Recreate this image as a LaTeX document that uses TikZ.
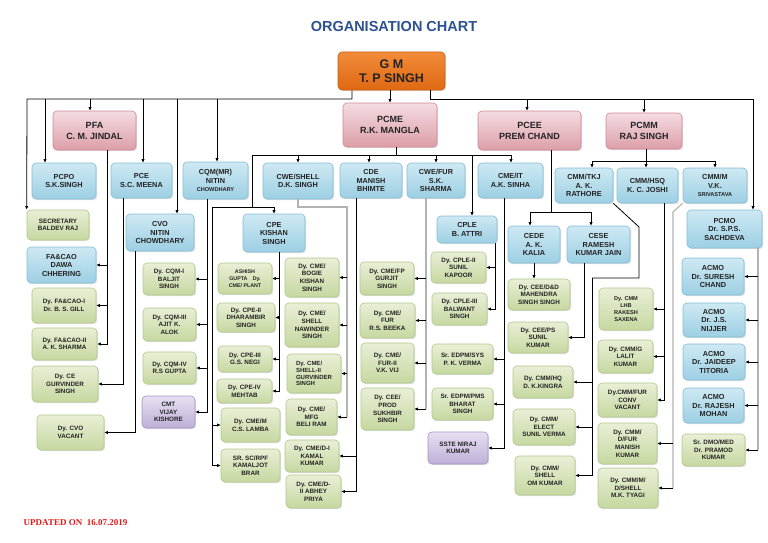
\documentclass[tikz,border=0pt]{standalone}
\usepackage{fontspec}
\setmainfont{Liberation Sans}
\newfontfamily\updfont{Liberation Serif}
\usetikzlibrary{arrows.meta}
\usetikzlibrary{shadows}
\definecolor{bluetop}{RGB}{206,233,243}
\definecolor{bluebot}{RGB}{156,207,227}
\definecolor{blueedge}{RGB}{132,190,215}
\definecolor{greentop}{RGB}{232,239,214}
\definecolor{greenbot}{RGB}{198,216,160}
\definecolor{greenedge}{RGB}{178,200,140}
\definecolor{pinktop}{RGB}{244,220,225}
\definecolor{pinkbot}{RGB}{220,158,168}
\definecolor{pinkedge}{RGB}{208,136,148}
\definecolor{purptop}{RGB}{230,223,241}
\definecolor{purpbot}{RGB}{190,175,216}
\definecolor{purpedge}{RGB}{165,148,196}
\definecolor{gmtop}{RGB}{242,140,58}
\definecolor{gmbot}{RGB}{222,104,18}
\definecolor{gmedge}{RGB}{205,95,15}
\definecolor{titleblue}{RGB}{44,82,145}
\definecolor{updred}{RGB}{225,25,25}
\definecolor{boxtext}{RGB}{35,35,35}

\tikzset{
  sz/.style 2 args={minimum width=#1pt, minimum height=#2pt},
  boxbase/.style={rounded corners=4pt, line width=0.6pt, align=center, inner sep=1pt,
    text=boxtext, drop shadow={shadow xshift=1.2pt, shadow yshift=-1.2pt, opacity=0.25}},
  bluebox/.style={boxbase, draw=blueedge, top color=bluetop, bottom color=bluebot,
    font=\bfseries\fontsize{7.3}{8.5}\selectfont},
  greenbox/.style={boxbase, draw=greenedge, top color=greentop, bottom color=greenbot,
    font=\bfseries\fontsize{6.3}{7.6}\selectfont},
  purplebox/.style={boxbase, draw=purpedge, top color=purptop, bottom color=purpbot,
    font=\bfseries\fontsize{6.3}{7.6}\selectfont},
  pinkbox/.style={boxbase, draw=pinkedge, top color=pinktop, bottom color=pinkbot,
    font=\bfseries\fontsize{9}{11}\selectfont},
  gmbox/.style={boxbase, draw=gmedge, top color=gmtop, bottom color=gmbot,
    font=\bfseries\fontsize{12.5}{14}\selectfont},
}

\begin{document}
\begin{tikzpicture}[x=1pt, y=-1pt, line width=0.8pt,
  arr/.style={-{Latex[length=3.6pt,width=3.4pt]}},
  gline/.style={draw=gray!60, line width=1.1pt}]

\fill[white] (0,0) rectangle (768,543);
\useasboundingbox (0,0) rectangle (768,543);

%---------------------------------------
% Title and top level
%---------------------------------------
\node[font=\bfseries\fontsize{14.5}{16}\selectfont, text=titleblue] (title) at (394,27) {ORGANISATION CHART};
\node[gmbox, sz={107}{38}] (gm) at (391.5,71) {G M\\T. P SINGH};

\node[pinkbox, sz={83}{39}] (pfa) at (94.5,130.5) {PFA\\C. M. JINDAL};
\node[pinkbox, sz={94}{44}] (pcme) at (390,125) {PCME\\R.K. MANGLA};
\node[pinkbox, sz={103}{39}] (pcee) at (529.5,130.5) {PCEE\\PREM CHAND};
\node[pinkbox, sz={76}{36}] (pcmm) at (644,131) {PCMM\\RAJ SINGH};

%---------------------------------------
% Second row
%---------------------------------------
\node[bluebox, sz={64}{36}] (pcpo) at (64,181) {PCPO\\S.K.SINGH};
\node[bluebox, sz={61}{35}] (pce) at (141.5,180.5) {PCE\\S.C. MEENA};
\node[bluebox, sz={65}{37}] (cqm) at (215.5,180.5) {CQM(MR)\\NITIN\\{\fontsize{5.6}{7}\selectfont CHOWDHARY}};
\node[bluebox, sz={70}{36}] (cweshell) at (298,181) {CWE/SHELL\\D.K. SINGH};
\node[bluebox, sz={62}{35}] (cde) at (371,180.5) {CDE\\MANISH\\BHIMTE};
\node[bluebox, sz={58}{35}] (cwefur) at (436,180.5) {CWE/FUR\\S.K.\\SHARMA};
\node[bluebox, sz={65}{35}] (cmeit) at (510.5,180.5) {CME/IT\\A.K. SINHA};
\node[bluebox, sz={58}{35}] (cmmtkj) at (584,185.5) {CMM/TKJ\\A. K.\\RATHORE};
\node[bluebox, sz={61}{35}] (cmmhsq) at (647.5,185.5) {CMM/HSQ\\K. C. JOSHI};
\node[bluebox, sz={64}{35}] (cmmm) at (715,185.5) {CMM/M\\V.K.\\{\fontsize{5.6}{7}\selectfont SRIVASTAVA}};

%---------------------------------------
% Third row
%---------------------------------------
\node[bluebox, sz={68}{37}] (cvo) at (160,232.5) {CVO\\NITIN\\CHOWDHARY};
\node[bluebox, sz={62}{38}] (cpe) at (274,233) {CPE\\KISHAN\\SINGH};
\node[bluebox, sz={60}{27}] (cple) at (467,229.5) {CPLE\\B. ATTRI};
\node[bluebox, sz={52}{37}] (cede) at (534,244.5) {CEDE\\A. K.\\KALIA};
\node[bluebox, sz={63}{37}] (cese) at (598.5,244.5) {CESE\\RAMESH\\KUMAR JAIN};
\node[bluebox, sz={75}{38}] (pcmo) at (724.5,229) {PCMO\\Dr. S.P.S.\\SACHDEVA};

%---------------------------------------
% Left column (PFA, PCE, CVO)
%---------------------------------------
\node[greenbox, sz={62}{30}] (secy) at (58,225) {SECRETARY\\BALDEV RAJ};
\node[bluebox, sz={69}{36}] (facao) at (61.5,265) {FA\&CAO\\DAWA\\CHHERING};
\node[greenbox, sz={64}{35}] (dyfa1) at (64,305.5) {Dy. FA\&CAO-I\\Dr. B. S. GILL};
\node[greenbox, sz={65}{32}] (dyfa2) at (64.5,344) {Dy. FA\&CAO-II\\A. K. SHARMA};
\node[greenbox, sz={66}{36}] (dyce) at (65,384) {Dy. CE\\GURVINDER\\SINGH};
\node[greenbox, sz={67}{35}] (dycvo) at (70.5,432.5) {Dy. CVO\\VACANT};

% CQM(MR)
\node[greenbox, sz={52}{32}] (dycqm1) at (169,279) {Dy. CQM-I\\BALJIT\\SINGH};
\node[greenbox, sz={53}{33}] (dycqm3) at (169.5,324.5) {Dy. CQM-III\\AJIT K.\\ALOK};
\node[greenbox, sz={53}{32}] (dycqm4) at (169.5,368) {Dy. CQM-IV\\R.S GUPTA};
\node[purplebox, sz={53}{32}] (cmt) at (168.5,412) {CMT\\VIJAY\\KISHORE};

% CPE
\node[greenbox, sz={54}{31}, font=\bfseries\fontsize{5.3}{7}\selectfont] (ashish) at (245,278.5) {ASHISH\\GUPTA\quad Dy.\\CME/ PLANT};
\node[greenbox, sz={58}{29}] (dycpe2) at (246,317.5) {Dy. CPE-II\\DHARAMBIR\\SINGH};
\node[greenbox, sz={54}{26}] (dycpe3) at (245,359) {Dy. CPE-III\\G.S. NEGI};
\node[greenbox, sz={55}{24}] (dycpe4) at (244.5,391) {Dy. CPE-IV\\MEHTAB};
\node[greenbox, sz={59}{34}] (dycmem) at (250.5,425) {Dy. CME/M\\C.S. LAMBA};
\node[greenbox, sz={59}{33}] (srsc) at (250.5,465.5) {SR. SC/RPF\\KAMALJOT\\BRAR};

% CWE/SHELL and CDE
\node[greenbox, sz={54}{39}] (dycmebogie) at (312,277.5) {Dy. CME/\\BOGIE\\KISHAN\\SINGH};
\node[greenbox, sz={54}{44}] (dycmeshell) at (312,325) {Dy. CME/\\SHELL\\NAWINDER\\SINGH};
\node[greenbox, sz={54}{39}, align=left, font=\bfseries\fontsize{6}{6.9}\selectfont] (dycmeshell2) at (314,373.5) {Dy. CME/\\SHELL-II\\GURVINDER\\SINGH};
\node[greenbox, sz={51}{36}] (dycmemfg) at (311.5,417) {Dy. CME/\\MFG\\BELI RAM};
\node[greenbox, sz={54}{32}] (dycmed1) at (312,456) {Dy. CME/D-I\\KAMAL\\KUMAR};
\node[greenbox, sz={55}{33}] (dycmed2) at (313.5,491.5) {Dy. CME/D-\\II ABHEY\\PRIYA};

% CWE/FUR
\node[greenbox, sz={54}{33}] (dycmefp) at (387,278.5) {Dy. CME/FP\\GURJIT\\SINGH};
\node[greenbox, sz={55}{35}] (dycmefur) at (387.5,320.5) {Dy. CME/\\FUR\\R.S. BEEKA};
\node[greenbox, sz={53}{40}] (dycmefur2) at (387.5,363) {Dy. CME/\\FUR-II\\V.K. VIJ};
\node[greenbox, sz={53}{42}] (dyceeprod) at (387.5,409) {Dy. CEE/\\PROD\\SUKHBIR\\SINGH};

% CPLE and CME/IT
\node[greenbox, sz={55}{31}] (dycple2) at (458.5,267.5) {Dy. CPLE-II\\SUNIL\\KAPOOR};
\node[greenbox, sz={55}{32}] (dycple3) at (459.5,309) {Dy. CPLE-III\\BALWANT\\SINGH};
\node[greenbox, sz={61}{30}] (edpmsys) at (462.5,359) {Sr. EDPM/SYS\\P. K. VERMA};
\node[greenbox, sz={61}{32}] (edpmpms) at (462.5,404) {Sr. EDPM/PMS\\BHARAT\\SINGH};
\node[purplebox, sz={60}{32}] (sste) at (458,448) {SSTE NIRAJ\\KUMAR};

% CEDE and CESE
\node[greenbox, sz={62}{31}] (dyceedd) at (539,294.5) {Dy. CEE/D\&D\\MAHENDRA\\SINGH SINGH};
\node[greenbox, sz={60}{31}] (dyceeps) at (538,337.5) {Dy. CEE/PS\\SUNIL\\KUMAR};

% CMM/TKJ
\node[greenbox, sz={60}{32}] (dycmmhq) at (543,382) {Dy. CMM/HQ\\D. K.KINGRA};
\node[greenbox, sz={62}{36}] (dycmmelect) at (544,427) {Dy. CMM/\\ELECT\\SUNIL VERMA};
\node[greenbox, sz={60}{39}] (dycmmshell) at (545,475.5) {Dy. CMM/\\SHELL\\OM KUMAR};

% CMM/HSQ and CMM/M
\node[greenbox, sz={54}{42}, font=\bfseries\fontsize{5.6}{7.2}\selectfont] (dycmmlhb) at (626,309) {Dy. CMM\\LHB\\RAKESH\\SAXENA};
\node[greenbox, sz={55}{33}] (dycmmg) at (625.5,356.5) {Dy. CMM/G\\LALIT\\KUMAR};
\node[greenbox, sz={59}{34}] (dycmmfur) at (627.5,400) {Dy.CMM/FUR\\CONV\\VACANT};
\node[greenbox, sz={59}{41}] (dycmmdfur) at (627.5,443.5) {Dy. CMM/\\D/FUR\\MANISH\\KUMAR};
\node[greenbox, sz={60}{40}] (dycmmdshell) at (628,488) {Dy. CMM/M/\\D/SHELL\\M.K. TYAGI};

% PCMO
\node[bluebox, sz={62}{37}] (acmo1) at (713,276.5) {ACMO\\Dr. SURESH\\CHAND};
\node[bluebox, sz={62}{34}] (acmo2) at (714,320) {ACMO\\Dr. J.S.\\NIJJER};
\node[bluebox, sz={62}{36}] (acmo3) at (714,362) {ACMO\\Dr. JAIDEEP\\TITORIA};
\node[bluebox, sz={61}{35}] (acmo4) at (713.5,405.5) {ACMO\\Dr. RAJESH\\MOHAN};
\node[greenbox, sz={63}{32}] (srdmo) at (713.5,450) {Sr. DMO/MED\\Dr. PRAMOD\\KUMAR};

\node[anchor=west, text=updred, font=\updfont\bfseries\fontsize{9}{10}\selectfont] (upd) at (20,523) {UPDATED ON\ \ 16.07.2019};

%---------------------------------------
% Connectors from G M
%---------------------------------------
\coordinate (lbus) at (27,99);
\coordinate (rbus) at (753,99);
\draw[arr] ([xshift=-39.5]gm.south) |- (lbus) -- (secy.north west);
\draw[arr] ([xshift=38.5]gm.south) |- (rbus) -- (rbus |- pcmo.north);
\draw[arr] (pcme.north |- gm.south) -- (pcme.north);
\draw[arr] ([xshift=-19]pcpo.north |- lbus) -- ([xshift=-19]pcpo.north);
\draw[arr] ([xshift=-4.5]pfa.north |- lbus) -- ([xshift=-4.5]pfa.north);
\draw[arr] ([xshift=1.5]pce.north |- lbus) -- ([xshift=1.5]pce.north);
\draw[arr] ([xshift=17]cvo.north |- lbus) -- ([xshift=17]cvo.north);
\draw[arr] ([xshift=1.5]cqm.north |- lbus) -- ([xshift=1.5]cqm.north);
\draw[arr] ([xshift=-2.5]pcee.north |- rbus) -- ([xshift=-2.5]pcee.north);
\draw[arr] (pcmm.north |- rbus) -- (pcmm.north);

% PFA, PCE, CVO, CQM(MR)
\draw[arr] ([xshift=12.5]pfa.south) |- (dyfa2.east);
\draw[arr] ([xshift=12.5]pfa.south |- facao.east) -- (facao.east);
\draw[arr] ([xshift=12.5]pfa.south |- dyfa1.east) -- (dyfa1.east);
\draw[arr] ([xshift=-18.5]pce.south) |- (dyce.east);
\draw[arr] ([xshift=-25]cvo.south) |- (dycvo.east);
\draw[arr] ([xshift=-8.5]cqm.south) |- (cmt.east);
\draw[arr] ([xshift=-8.5]cqm.south |- dycqm1.east) -- (dycqm1.east);
\draw[arr] ([xshift=-8.5]cqm.south |- dycqm3.east) -- (dycqm3.east);
\draw[arr] ([xshift=-8.5]cqm.south |- dycqm4.east) -- (dycqm4.east);

%---------------------------------------
% PCME
%---------------------------------------
\coordinate (mbusL) at (252,155);
\coordinate (mbusR) at (511,155);
\draw ([xshift=6]pcme.south) -- ([xshift=6]pcme.south |- mbusL);
\draw (mbusL) -- (mbusR);
\draw[arr] (cweshell.north |- mbusL) -- (cweshell.north);
\draw[arr] ([xshift=-2]cde.north |- mbusL) -- ([xshift=-2]cde.north);
\draw[arr] (cwefur.north |- mbusL) -- (cwefur.north);
\draw[arr] (mbusR) -- (mbusR |- cmeit.north);
\draw[arr] ([xshift=5]cple.north |- mbusL) -- ([xshift=5]cple.north);

% CPE branch
\coordinate (cpebus) at (252,207);
\coordinate (cpetrunk) at (212,207);
\draw (mbusL) -- (cpebus);
\draw[arr] (cpebus) -| (cpe.north);
\draw[arr] (cpebus) -- (cpetrunk) |- (srsc.west);
\draw[arr] (cpetrunk |- dycmem.west) -- (dycmem.west);
\draw[arr] ([xshift=5]cpe.south) |- (dycpe4.east);
\draw[arr] ([xshift=5]cpe.south |- ashish.east) -- (ashish.east);
\draw[arr] ([xshift=5]cpe.south |- dycpe2.east) -- (dycpe2.east);
\draw[arr] ([xshift=5]cpe.south |- dycpe3.east) -- (dycpe3.east);

% CWE/SHELL
\coordinate (shellbend) at (347,207);
\draw[gline] (cweshell.south) |- (shellbend) -- (shellbend |- dycmemfg.east);
\draw[arr] (shellbend |- dycmebogie.east) -- (dycmebogie.east);
\draw[arr] (shellbend |- dycmeshell.east) -- (dycmeshell.east);
\draw[arr] (shellbend |- dycmeshell2.east) -- (dycmeshell2.east);
\draw[arr] (shellbend |- dycmemfg.east) -- (dycmemfg.east);

% CDE
\draw[arr] ([xshift=-15]cde.south) |- (dycmed2.east);
\draw[arr] ([xshift=-15]cde.south |- dycmed1.east) -- (dycmed1.east);

% CWE/FUR
\draw[gline] ([xshift=-10]cwefur.south) -- ([xshift=-10]cwefur.south |- dyceeprod.east);
\draw[arr] ([xshift=-10]cwefur.south |- dycmefp.east) -- (dycmefp.east);
\draw[arr] ([xshift=-10]cwefur.south |- dycmefur.east) -- (dycmefur.east);
\draw[arr] ([xshift=-10]cwefur.south |- dycmefur2.east) -- (dycmefur2.east);
\draw[arr] ([xshift=-10]cwefur.south |- dyceeprod.east) -- (dyceeprod.east);

% CPLE, CME/IT
\draw[arr] ([xshift=28]cple.south) |- (dycple3.east);
\draw[arr] ([xshift=28]cple.south |- dycple2.east) -- (dycple2.east);
\draw[arr] ([xshift=-6.5]cmeit.south) |- (sste.east);
\draw[arr] ([xshift=-6.5]cmeit.south |- edpmsys.east) -- (edpmsys.east);
\draw[arr] ([xshift=-6.5]cmeit.south |- edpmpms.east) -- (edpmpms.east);

%---------------------------------------
% PCEE
%---------------------------------------
\coordinate (eebus) at (551,212);
\draw ([xshift=21.5]pcee.south) -- (eebus);
\draw[arr] (eebus) -| ([xshift=-4]cede.north);
\draw[arr] (eebus) -| ([xshift=-7.5]cese.north);
\draw[arr] (cede.south) -- (cede.south |- dyceedd.north);
\draw[arr] ([xshift=-14.5]cese.south) |- (dyceeps.east);

%---------------------------------------
% PCMM
%---------------------------------------
\coordinate (mmbus) at (646,161);
\draw (pcmm.south -| mmbus) -- (mmbus);
\draw[arr] (mmbus) -| ([xshift=8]cmmtkj.north);
\draw[arr] (mmbus) -- (mmbus |- cmmhsq.north);
\draw[arr] (mmbus) -| (cmmm.north);

% CMM/TKJ
\coordinate (tkjA) at (639,227);
\coordinate (tkjB) at (592,278);
\draw (cmmtkj.south east) -- (tkjA) |- (tkjB);
\draw[arr] (tkjB) |- (dycmmshell.east);
\draw[arr] (tkjB |- dycmmhq.east) -- (dycmmhq.east);
\draw[arr] (tkjB |- dycmmelect.east) -- (dycmmelect.east);

% CMM/HSQ
\draw[arr] ([xshift=16.5]cmmhsq.south) |- (dycmmfur.east);
\draw[arr] ([xshift=16.5]cmmhsq.south |- dycmmlhb.east) -- (dycmmlhb.east);
\draw[arr] ([xshift=16.5]cmmhsq.south |- dycmmg.east) -- (dycmmg.east);

% CMM/M
\coordinate (mmA) at (673,212);
\draw[gline] (cmmm.south west) -- (mmA) -- (mmA |- dycmmdshell.east);
\draw[arr] (mmA |- dycmmdfur.east) -- (dycmmdfur.east);
\draw[arr] (mmA |- dycmmdshell.east) -- (dycmmdshell.east);

% PCMO
\draw[gline] ([xshift=33.5]pcmo.south) -- ([xshift=33.5]pcmo.south |- srdmo.east);
\draw[arr] ([xshift=33.5]pcmo.south |- acmo1.east) -- (acmo1.east);
\draw[arr] ([xshift=33.5]pcmo.south |- acmo2.east) -- (acmo2.east);
\draw[arr] ([xshift=33.5]pcmo.south |- acmo3.east) -- (acmo3.east);
\draw[arr] ([xshift=33.5]pcmo.south |- acmo4.east) -- (acmo4.east);
\draw[arr] ([xshift=33.5]pcmo.south |- srdmo.east) -- (srdmo.east);

\end{tikzpicture}
\end{document}
